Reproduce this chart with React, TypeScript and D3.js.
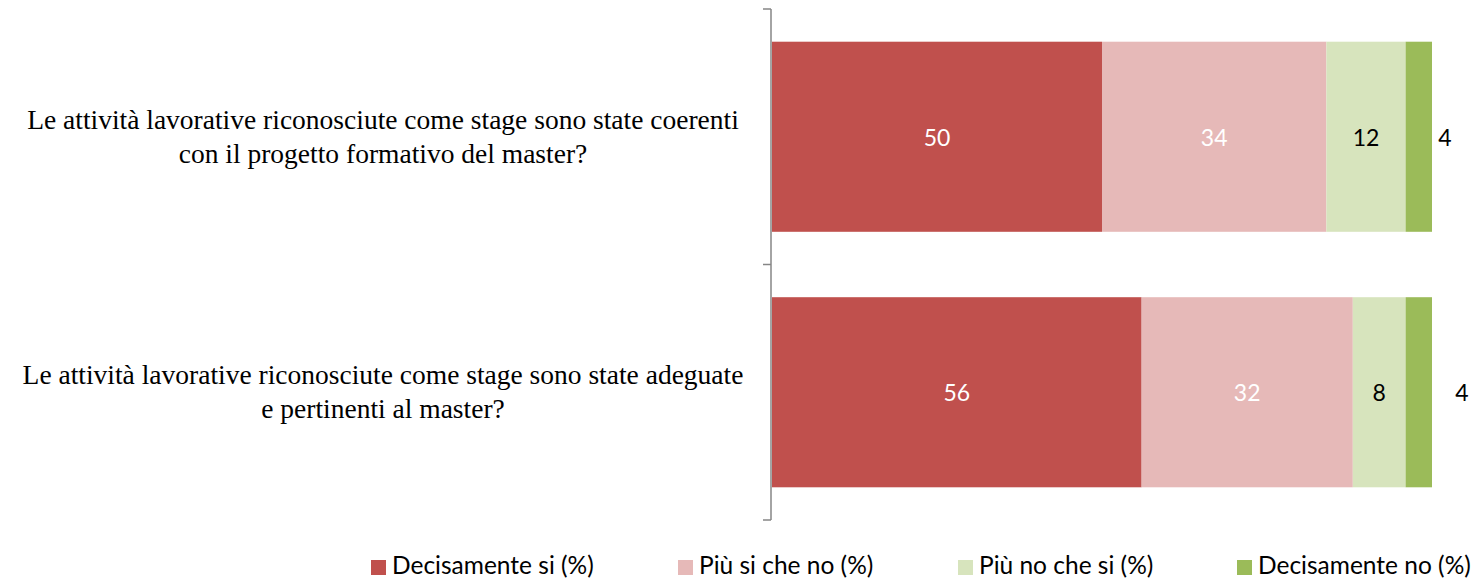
import React from "react";
import * as d3 from "d3";

const questions = [
  ["Le attività lavorative riconosciute come stage sono state coerenti", "con il progetto formativo del master?"],
  ["Le attività lavorative riconosciute come stage sono state adeguate", "e pertinenti al master?"],
];
const seriesNames = ["Decisamente si (%)", "Più si che no (%)", "Più no che si (%)", "Decisamente no (%)"];
const decisamenteSi = [50, 56];
const piuSiCheNo = [34, 32];
const piuNoCheSi = [12, 8];
const decisamenteNo = [4, 4];

const colors = ["#C0504D", "#E6B9B8", "#D7E4BD", "#9BBB59"];
const labelColors = ["#ffffff", "#ffffff", "#000000", "#000000"];
const legendX = [371, 678, 958, 1237];
const outsideOffset = [13, 30];

const W = 1472;
const H = 581;
const labelFont = "Lato, 'Open Sans', sans-serif";

export default function App() {
  const series = [decisamenteSi, piuSiCheNo, piuNoCheSi, decisamenteNo];
  const rows = questions.map((q, i) => {
    const r: any = { key: i };
    seriesNames.forEach((s, j) => (r[s] = series[j][i]));
    return r;
  });
  const stacked = d3.stack<any>().keys(seriesNames)(rows);

  const x = d3.scaleLinear().domain([0, 100]).range([772, 1432]);
  const y = d3
    .scaleBand<number>()
    .domain(questions.map((_, i) => i))
    .range([9, 520])
    .paddingInner(0.256)
    .paddingOuter(0.128);
  const step = y.step();
  const bandStart = 9;

  return (
    <div style={{ position: "fixed", left: 0, top: 0, width: W, height: H, overflow: "hidden" }}>
      <svg width={W} height={H} style={{ display: "block", background: "#fff" }}>
        {/* axis */}
        <line x1={771} x2={771} y1={9} y2={520} stroke="#868686" strokeWidth={1.5} />
        {[0, 1, 2].map((k) => (
          <line
            key={k}
            x1={763}
            x2={771}
            y1={bandStart + k * step}
            y2={bandStart + k * step}
            stroke="#868686"
            strokeWidth={1.5}
          />
        ))}
        {/* category labels */}
        {questions.map((lines, i) => {
          const cy = (y(i) as number) + y.bandwidth() / 2;
          return (
            <text
              key={i}
              textAnchor="middle"
              fontFamily="'Liberation Serif', 'Times New Roman', serif"
              fontSize={27.5}
              fill="#000"
            >
              {lines.map((l, k) => (
                <tspan key={k} x={383} y={cy + (k - 0.5) * 34 + 9}>
                  {l}
                </tspan>
              ))}
            </text>
          );
        })}
        {/* bars */}
        {stacked.map((s, j) => (
          <g key={s.key}>
            {s.map((d, i) => (
              <rect
                key={i}
                x={x(d[0])}
                y={y(i)}
                width={x(d[1]) - x(d[0])}
                height={y.bandwidth()}
                fill={colors[j]}
              />
            ))}
          </g>
        ))}
        {/* value labels */}
        {stacked.map((s, j) => (
          <g key={"l" + s.key}>
            {s.map((d, i) => {
              const cy = (y(i) as number) + y.bandwidth() / 2;
              const last = j === stacked.length - 1;
              const lx = last ? x(d[1]) + outsideOffset[i] : (x(d[0]) + x(d[1])) / 2;
              return (
                <text
                  key={i}
                  x={lx}
                  y={cy + 3}
                  textAnchor="middle"
                  dominantBaseline="middle"
                  fontFamily={labelFont}
                  fontSize={23}
                  fill={labelColors[j]}
                >
                  {d[1] - d[0]}
                </text>
              );
            })}
          </g>
        ))}
        {/* legend */}
        {seriesNames.map((n, j) => (
          <g key={n} transform={`translate(${legendX[j]},560)`}>
            <rect x={0} y={0} width={15} height={15} fill={colors[j]} />
            <text x={21} y={8} dominantBaseline="middle" fontFamily={labelFont} fontSize={24.5} fill="#000">
              {n}
            </text>
          </g>
        ))}
      </svg>
    </div>
  );
}
